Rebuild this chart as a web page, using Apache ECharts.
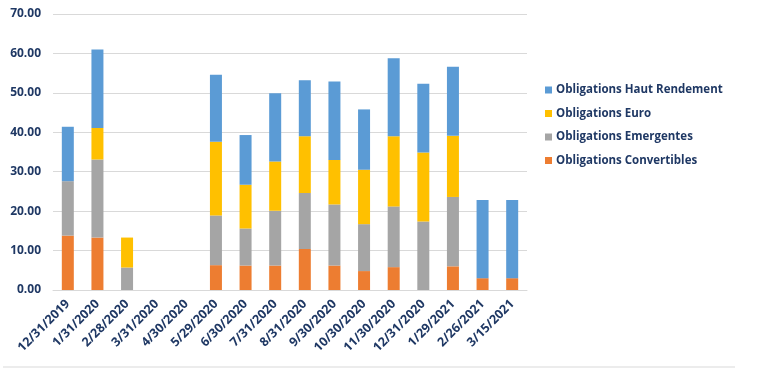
<!DOCTYPE html>
<html><head><meta charset="utf-8">
<script src="https://cdn.jsdelivr.net/npm/echarts@6/dist/echarts.min.js"></script>
<style>html,body{margin:0;padding:0;background:#fff}#c{width:761px;height:379px}</style>
</head><body><div id="c"></div>
<script>
const categories = ['12/31/2019','1/31/2020','2/28/2020','3/31/2020','4/30/2020','5/29/2020','6/30/2020','7/31/2020','8/31/2020','9/30/2020','10/30/2020','11/30/2020','12/31/2020','1/29/2021','2/26/2021','3/15/2021'];
const convertibles = [13.8, 13.3, 0, 0, 0, 6.3, 6.2, 6.2, 10.4, 6.2, 4.8, 5.8, 0, 6.0, 3.0, 3.0];
const emergentes   = [13.8, 19.8, 5.7, 0, 0, 12.6, 9.4, 13.9, 14.2, 15.5, 11.9, 15.4, 17.4, 17.6, 0, 0];
const euro         = [0, 8.0, 7.6, 0, 0, 18.7, 11.1, 12.5, 14.4, 11.3, 13.8, 17.8, 17.5, 15.5, 0, 0];
const hautRend     = [13.8, 19.9, 0, 0, 0, 17.0, 12.6, 17.3, 14.2, 19.9, 15.3, 19.8, 17.4, 17.5, 19.8, 19.8];
const names = ['Obligations Convertibles','Obligations Emergentes','Obligations Euro','Obligations Haut Rendement'];
const colors = ['#ED7D31','#A5A5A5','#FFC000','#5B9BD5'];
const navy = '#1F3864';
const chart = echarts.init(document.getElementById('c'));
const datas = [convertibles, emergentes, euro, hautRend];
chart.setOption({
  animation: false,
  grid: {left: 53, right: 234, top: 14, bottom: 89},
  legend: {
    orient: 'vertical', left: 545, top: 84, itemGap: 11.5, itemWidth: 7, itemHeight: 7,
    icon: 'rect', padding: 0,
    data: [names[3], names[2], names[1], names[0]],
    textStyle: {color: navy, fontWeight: 'bold', fontSize: 11.5, fontFamily: 'Open Sans', padding: [0, 0, 0, -1]}
  },
  xAxis: {
    type: 'category', data: categories,
    axisTick: {show: false},
    axisLine: {lineStyle: {color: '#d9d9d9'}},
    axisLabel: {rotate: 45, interval: 0, color: navy, fontWeight: 'bold', fontSize: 12.5, fontFamily: 'Open Sans', margin: 12}
  },
  yAxis: {
    type: 'value', min: 0, max: 70, interval: 10,
    axisLine: {show: false}, axisTick: {show: false},
    splitLine: {lineStyle: {color: '#d9d9d9'}},
    axisLabel: {color: navy, fontWeight: 'bold', fontSize: 12, fontFamily: 'Open Sans', margin: 12,
      formatter: v => v.toFixed(2)}
  },
  graphic: [{type: 'line', shape: {x1: 3, y1: 367, x2: 735, y2: 367}, style: {stroke: '#d9d9d9', lineWidth: 1}}],
  series: datas.map((d, i) => ({
    name: names[i], type: 'bar', stack: 'a', data: d, barWidth: 12,
    itemStyle: {color: colors[i]}
  }))
});
</script></body></html>
